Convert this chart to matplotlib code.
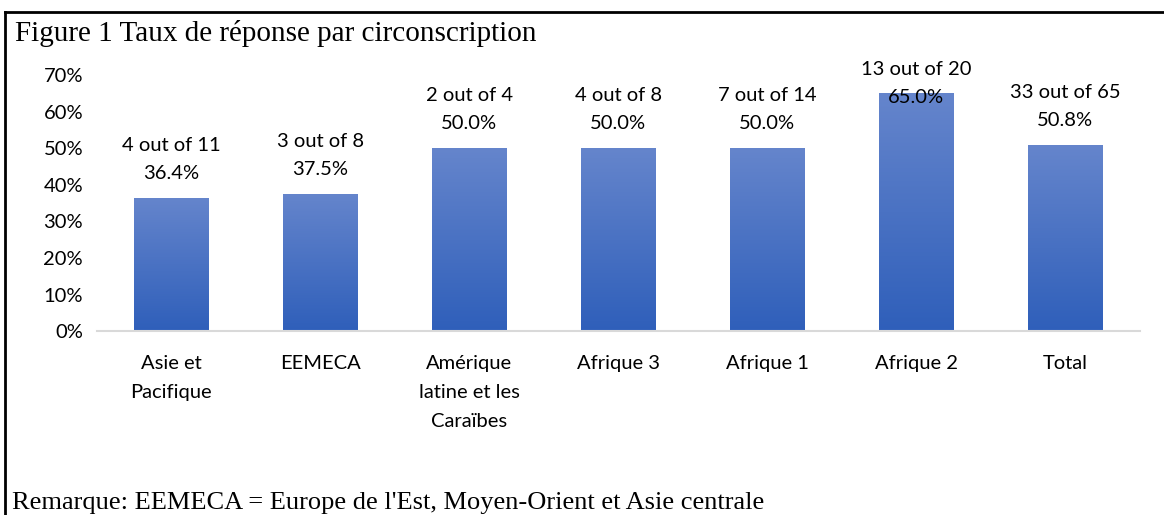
import matplotlib.pyplot as plt
import numpy as np
from matplotlib.lines import Line2D
from matplotlib.colors import LinearSegmentedColormap

categories = ['Asie et\nPacifique', 'EEMECA', 'Amérique\nlatine et les\nCaraïbes',
              'Afrique 3', 'Afrique 1', 'Afrique 2', 'Total']
answered = [4, 3, 2, 4, 7, 13, 33]
total = [11, 8, 4, 8, 14, 20, 65]
rate = [0.364, 0.375, 0.50, 0.50, 0.50, 0.65, 0.508]
yticks = [0, 0.1, 0.2, 0.3, 0.4, 0.5, 0.6, 0.7]

sans = ['Lato', 'DejaVu Sans']
serif = ['Liberation Serif', 'DejaVu Serif']

fig = plt.figure(figsize=(11.64, 5.15), dpi=100)
ax = fig.add_axes([0.0833, 0.357, 0.8957, 0.497])

x = np.arange(len(categories))
bars = ax.bar(x, rate, width=0.5, color='none', edgecolor='none')

# vertical gradient inside each bar (lighter at the top)
cmap = LinearSegmentedColormap.from_list('g', ['#2f5fba', '#6585cc'])
grad = np.linspace(0, 1, 256).reshape(-1, 1)
for b in bars:
    x0, w, h = b.get_x(), b.get_width(), b.get_height()
    im = ax.imshow(grad, cmap=cmap, extent=[x0, x0 + w, 0, h], origin='lower',
                   aspect='auto', zorder=2)
    im.set_clip_path(b)

ax.set_xlim(-0.5, len(categories) - 0.5)
ax.set_ylim(0, 0.7)
ax.set_yticks(yticks)
ax.set_yticklabels([f'{int(round(t * 100))}%' for t in yticks], fontsize=14.5, family=sans)
ax.set_xticks(x)
ax.set_xticklabels(categories, fontsize=14.5, family=sans, linespacing=1.85)
ax.tick_params(length=0, pad=10)
ax.tick_params(axis='x', pad=17)
for s in ['top', 'right', 'left']:
    ax.spines[s].set_visible(False)
ax.spines['bottom'].set_color('#d9d9d9')
ax.spines['bottom'].set_linewidth(1.5)

for i in range(len(categories)):
    ypos = min(rate[i] + 0.045, 0.617)
    ax.text(x[i], ypos, f'{answered[i]} out of {total[i]}\n{rate[i] * 100:.1f}%',
            ha='center', va='bottom', fontsize=14.5, family=sans, linespacing=1.75,
            zorder=3, clip_on=False)

fig.text(0.013, 0.935, 'Figure 1 Taux de réponse par circonscription',
         fontsize=21, family=serif, va='center')
fig.text(0.01, 0.024, "Remarque: EEMECA = Europe de l'Est, Moyen-Orient et Asie centrale",
         fontsize=19, family=serif, va='center')

# frame around the figure (top and left edges only visible)
fig.add_artist(Line2D([0.0043, 1.0], [0.977, 0.977], color='black', lw=2,
                      transform=fig.transFigure))
fig.add_artist(Line2D([0.0043, 0.0043], [0.0, 0.977], color='black', lw=2,
                      transform=fig.transFigure))

fig.savefig('out.png', dpi=100)
